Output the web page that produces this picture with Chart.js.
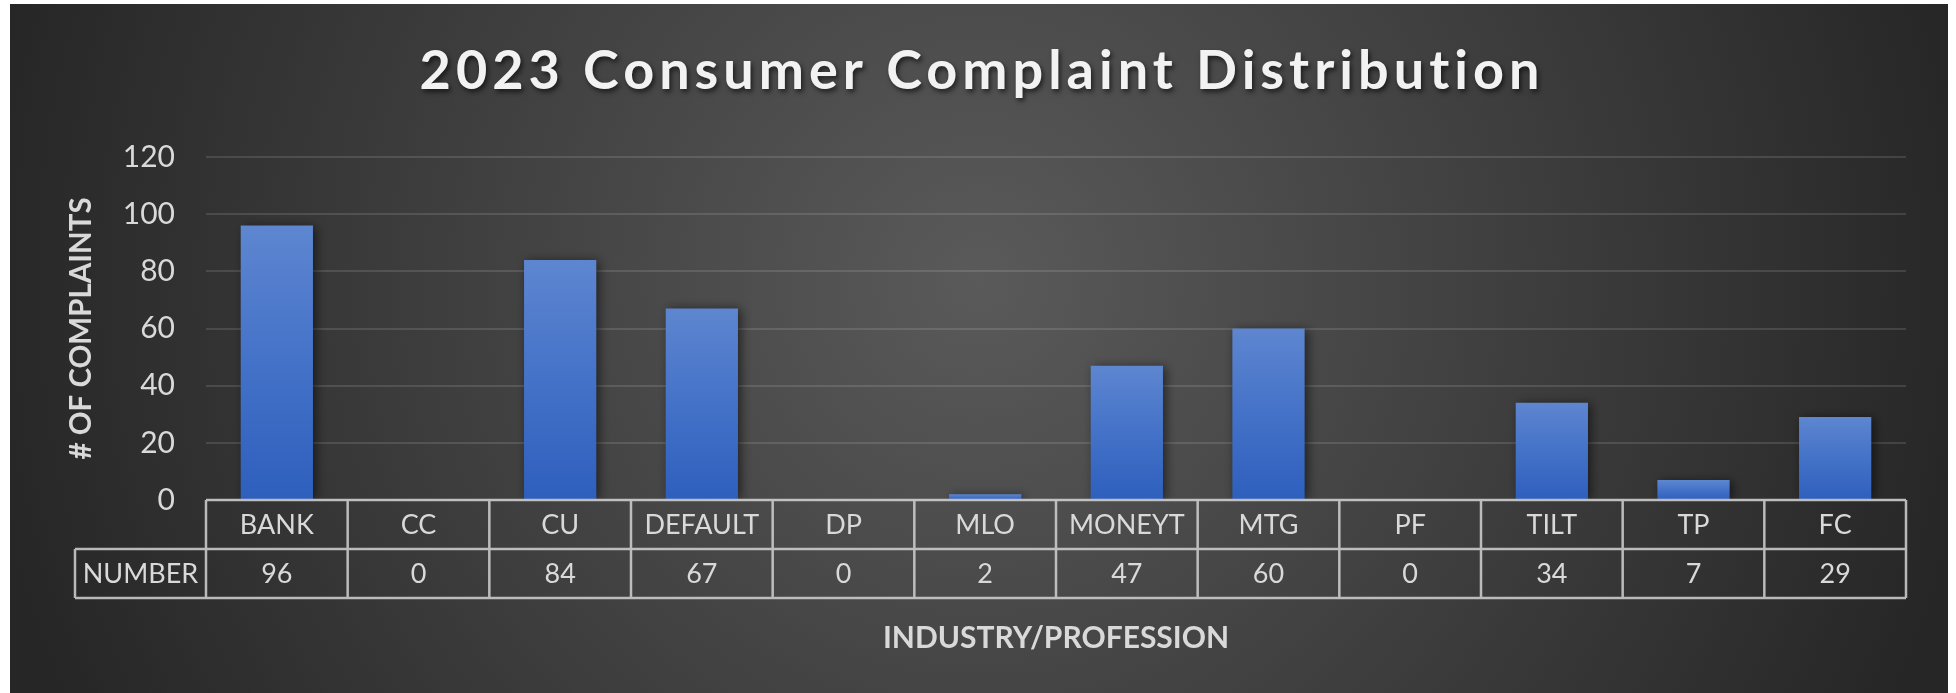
<!DOCTYPE html>
<html>
<head>
<meta charset="utf-8">
<script src="https://cdn.jsdelivr.net/npm/chart.js@4.4.0/dist/chart.umd.min.js"></script>
<style>
  html, body { margin: 0; padding: 0; background: #ffffff; }
  #wrap { position: absolute; left: 10px; top: 4px; width: 1938px; height: 689px; }
</style>
</head>
<body>
<div id="wrap"><canvas id="complaintChart"></canvas></div>
<script>
// chart data
const categories = ["BANK", "CC", "CU", "DEFAULT", "DP", "MLO", "MONEYT", "MTG", "PF", "TILT", "TP", "FC"];
const complaints = [96, 0, 84, 67, 0, 2, 47, 60, 0, 34, 7, 29];
const yTicks = [0, 20, 40, 60, 80, 100, 120];
const rowLabel = "NUMBER";
const chartTitle = "2023 Consumer Complaint Distribution";

const textColor = "#d9d9d9";
const lineColor = "rgba(210,210,210,0.85)";

// background + title
const backdrop = {
  id: "backdrop",
  beforeDraw(chart) {
    const { ctx, width, height } = chart;
    const g = ctx.createRadialGradient(width * 0.5, height * 0.4, 0, width * 0.5, height * 0.4, width * 0.52);
    g.addColorStop(0, "#5a5a5a");
    g.addColorStop(1, "#262626");
    ctx.save();
    ctx.fillStyle = g;
    ctx.fillRect(0, 0, width, height);
    ctx.restore();
  },
  afterDraw(chart) {
    const { ctx, width } = chart;
    ctx.save();
    ctx.font = "bold 54px Lato";
    ctx.letterSpacing = "5px";
    ctx.textAlign = "center";
    ctx.textBaseline = "middle";
    ctx.shadowColor = "rgba(0,0,0,0.6)";
    ctx.shadowBlur = 5;
    ctx.shadowOffsetX = 2;
    ctx.shadowOffsetY = 3;
    ctx.fillStyle = "#f2f2f2";
    ctx.fillText(chartTitle, width / 2 + 3, 68);
    ctx.restore();
  }
};

// data table under the x axis
const dataTable = {
  id: "dataTable",
  afterDatasetsDraw(chart) {
    const { ctx, scales: { x }, chartArea } = chart;
    const top = chartArea.bottom;
    const rowH = 49;
    const mid = top + rowH;
    const bot = top + rowH * 2;
    const step = x.getPixelForTick(1) - x.getPixelForTick(0);
    const left = x.getPixelForTick(0) - step / 2;
    const right = x.getPixelForTick(categories.length - 1) + step / 2;
    const labelLeft = 65;

    ctx.save();
    ctx.strokeStyle = lineColor;
    ctx.lineWidth = 2.5;
    ctx.beginPath();
    ctx.moveTo(left, top); ctx.lineTo(right, top);
    ctx.moveTo(labelLeft, mid); ctx.lineTo(right, mid);
    ctx.moveTo(labelLeft, bot); ctx.lineTo(right, bot);
    ctx.moveTo(labelLeft, mid); ctx.lineTo(labelLeft, bot);
    for (let i = 0; i <= categories.length; i++) {
      const px = left + step * i;
      ctx.moveTo(px, top); ctx.lineTo(px, bot);
    }
    ctx.stroke();

    ctx.fillStyle = textColor;
    ctx.font = "27px Lato";
    ctx.textAlign = "center";
    ctx.textBaseline = "middle";
    categories.forEach((c, i) => {
      const cx = x.getPixelForTick(i);
      ctx.fillText(c, cx, top + rowH / 2 + 1);
      ctx.fillText(String(complaints[i]), cx, mid + rowH / 2 + 1);
    });
    ctx.fillText(rowLabel, (labelLeft + left) / 2, mid + rowH / 2 + 1);
    ctx.restore();
  }
};

// soft shadow behind the bars
const barShadow = {
  id: "barShadow",
  beforeDatasetsDraw(chart) {
    const ctx = chart.ctx;
    ctx.save();
    ctx.shadowColor = "rgba(0,0,0,0.55)";
    ctx.shadowBlur = 10;
    ctx.shadowOffsetX = 3;
    ctx.shadowOffsetY = 1;
  },
  afterDatasetsDraw(chart) {
    chart.ctx.restore();
  }
};

function barFill(context) {
  const chart = context.chart;
  const y = chart.scales.y;
  if (!chart.chartArea || !y) return "#4472c4";
  const v = complaints[context.dataIndex];
  const top = y.getPixelForValue(v);
  const bottom = y.getPixelForValue(0);
  if (bottom - top < 1) return "#5b84cf";
  const g = chart.ctx.createLinearGradient(0, top, 0, bottom);
  g.addColorStop(0, "#5e86d0");
  g.addColorStop(0.5, "#4472c8");
  g.addColorStop(1, "#2e5fbd");
  return g;
}

new Chart(document.getElementById("complaintChart"), {
  type: "bar",
  data: {
    labels: categories,
    datasets: [{
      label: rowLabel,
      data: complaints,
      backgroundColor: barFill,
      borderWidth: 0,
      categoryPercentage: 1,
      barPercentage: 0.51
    }]
  },
  options: {
    responsive: true,
    maintainAspectRatio: false,
    animation: false,
    layout: { padding: { top: 153, right: 42, left: 0, bottom: 0 } },
    plugins: {
      legend: { display: false },
      title: { display: false },
      tooltip: { enabled: false }
    },
    scales: {
      x: {
        grid: { display: false },
        border: { display: false },
        ticks: { display: false },
        afterFit(scale) { scale.height = 193; },
        title: {
          display: true,
          text: "INDUSTRY/PROFESSION",
          color: textColor,
          font: { family: "Lato", size: 30, weight: "bold" },
          padding: { top: 0, bottom: 37 }
        }
      },
      y: {
        min: 0,
        max: 120,
        afterBuildTicks(scale) { scale.ticks = yTicks.map(v => ({ value: v })); },
        afterFit(scale) { scale.width = 196; },
        grid: { color: "rgba(255,255,255,0.12)", lineWidth: 2, drawTicks: false },
        border: { display: false },
        ticks: {
          color: textColor,
          padding: 31,
          font: { family: "Lato", size: 30 }
        },
        title: {
          display: true,
          text: "# OF COMPLAINTS",
          color: textColor,
          font: { family: "Lato", size: 29.5, weight: "bold" },
          padding: { top: 54, bottom: 0 }
        }
      }
    }
  },
  plugins: [backdrop, barShadow, dataTable]
});
</script>
</body>
</html>
